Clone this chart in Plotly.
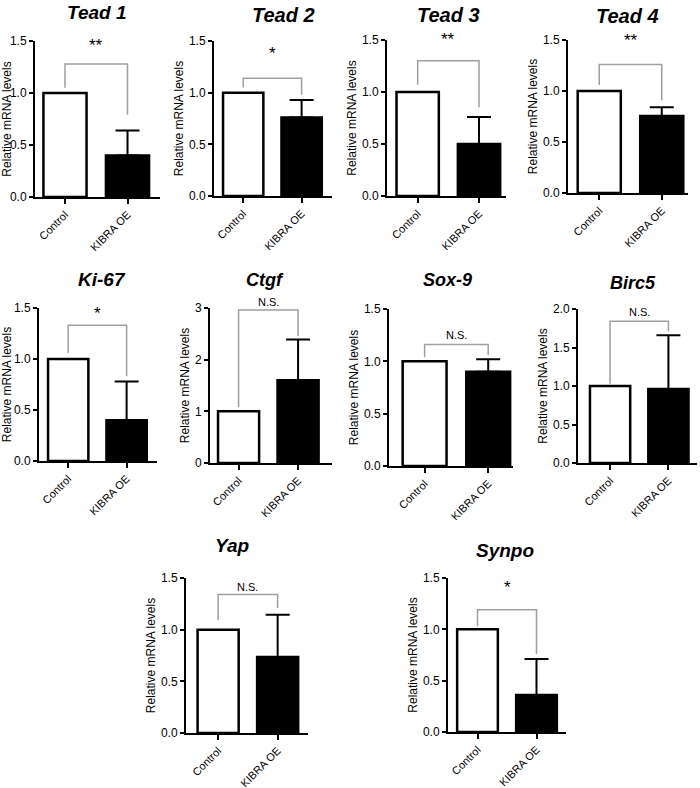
import plotly.graph_objects as go

# ---------------- data ----------------
genes = ["Tead 1", "Tead 2", "Tead 3", "Tead 4", "Ki-67", "Ctgf", "Sox-9", "Birc5", "Yap", "Synpo"]
groups = ["Control", "KIBRA OE"]
control_values = [1.0, 1.0, 1.0, 1.0, 1.0, 1.0, 1.0, 1.0, 1.0, 1.0]
kibra_values = [0.40, 0.76, 0.50, 0.755, 0.40, 1.60, 0.90, 0.96, 0.735, 0.36]
kibra_errors = [0.24, 0.17, 0.26, 0.085, 0.38, 0.79, 0.12, 0.70, 0.41, 0.35]
y_max = [1.5, 1.5, 1.5, 1.5, 1.5, 3.0, 1.5, 2.0, 1.5, 1.5]
y_dtick = [0.5, 0.5, 0.5, 0.5, 0.5, 1.0, 0.5, 0.5, 0.5, 0.5]
y_format = [".1f", ".1f", ".1f", ".1f", ".1f", "d", ".1f", ".1f", ".1f", ".1f"]
sig_labels = ["**", "*", "**", "**", "*", "N.S.", "N.S.", "N.S.", "N.S.", "*"]
bracket_y = [1.28, 1.14, 1.30, 1.26, 1.33, 2.96, 1.16, 1.84, 1.34, 1.19]
bracket_left = [1.05, 1.05, 1.07, 1.06, 1.06, 1.08, 1.04, 1.03, 1.09, 1.03]
bracket_right = [0.79, 0.98, 0.85, 0.91, 0.83, 2.46, 1.06, 1.71, 1.21, 0.76]
y_title = "Relative mRNA levels"

# ---------------- layout geometry (page pixels) ----------------
W, H = 700, 788
panel_px = [  # x_left, x_right, y_bottom, y_top
    (35, 160, 197, 41), (214, 332, 196, 41), (387, 506, 196, 40), (568, 688, 193, 40),
    (39, 157, 461, 308), (210, 332, 463, 308), (389, 513, 466, 309), (578, 697, 463, 309),
    (186, 308, 733, 578), (448, 566, 732, 578),
]
x_ranges = [(-0.48, 1.52), (-0.50, 1.52), (-0.50, 1.44), (-0.50, 1.42), (-0.50, 1.52),
            (-0.48, 1.57), (-0.56, 1.39), (-0.55, 1.49), (-0.54, 1.51), (-0.50, 1.50)]
title_px = [(97, 12), (283, 15), (448, 15), (627, 16), (102, 280), (265, 280), (447, 280),
            (633, 283), (232, 545), (505, 550)]
title_size = [19, 20, 20, 20, 19, 18, 18, 18, 19, 19]
sig_shift_px = [18, 25, 21, 24, 12, 8, 10, 9, 8, 22]


def px_x(v):
    return v / W


def px_y(v):
    return 1 - v / H


FONT = "Arial, Liberation Sans, sans-serif"
fig = go.Figure()
layout = {}
annotations = []

for i, g in enumerate(genes):
    n = i + 1
    xs = "x" if n == 1 else f"x{n}"
    ys = "y" if n == 1 else f"y{n}"
    xk = "xaxis" if n == 1 else f"xaxis{n}"
    yk = "yaxis" if n == 1 else f"yaxis{n}"
    x0, x1, yb, yt = panel_px[i]

    fig.add_trace(go.Bar(
        x=[groups[0]], y=[control_values[i]], width=0.69,
        marker=dict(color="white", line=dict(color="black", width=2.5)),
        xaxis=xs, yaxis=ys, showlegend=False, hoverinfo="skip"))
    fig.add_trace(go.Bar(
        x=[groups[1]], y=[kibra_values[i]], width=0.69,
        marker=dict(color="black", line=dict(color="black", width=2.5)),
        error_y=dict(type="data", array=[kibra_errors[i]], arrayminus=[0], symmetric=False,
                     color="black", thickness=2, width=12),
        xaxis=xs, yaxis=ys, showlegend=False, hoverinfo="skip"))
    fig.add_trace(go.Scatter(
        x=[groups[0], groups[0], groups[1], groups[1]],
        y=[bracket_left[i], bracket_y[i], bracket_y[i], bracket_right[i]],
        mode="lines", line=dict(color="#a0a0a0", width=1.5),
        xaxis=xs, yaxis=ys, showlegend=False, hoverinfo="skip"))

    layout[xk] = dict(
        domain=[px_x(x0), px_x(x1)], anchor=ys, type="category",
        categoryorder="array", categoryarray=groups, range=list(x_ranges[i]),
        showline=True, linewidth=2, linecolor="black", ticks="outside", ticklen=5,
        tickwidth=2, tickcolor="black", tickangle=-45,
        tickfont=dict(family=FONT, size=11, color="black"),
        showgrid=False, zeroline=False, automargin=False, fixedrange=True)
    layout[yk] = dict(
        domain=[px_y(yb), px_y(yt)], anchor=xs, range=[0, y_max[i]],
        dtick=y_dtick[i], tick0=0, tickformat=y_format[i],
        showline=True, linewidth=2, linecolor="black", ticks="outside", ticklen=4,
        tickwidth=2, tickcolor="black",
        tickfont=dict(family=FONT, size=12, color="black"),
        title=dict(text=y_title, font=dict(family=FONT, size=12, color="black"), standoff=3),
        showgrid=False, zeroline=False, automargin=False, fixedrange=True)

    tx, ty = title_px[i]
    annotations.append(dict(
        text=f"<b><i>{g}</i></b>", x=px_x(tx), y=px_y(ty), xref="paper", yref="paper",
        xanchor="center", yanchor="middle", showarrow=False,
        font=dict(family=FONT, size=title_size[i], color="black")))
    is_star = sig_labels[i].startswith("*")
    annotations.append(dict(
        text=sig_labels[i], x=0.5, y=bracket_y[i], xref=xs, yref=ys,
        xanchor="center", yanchor="middle", yshift=sig_shift_px[i], showarrow=False,
        font=dict(family=FONT, size=17 if is_star else 11, color="black")))

fig.update_layout(
    width=W, height=H, margin=dict(l=0, r=0, t=0, b=0),
    paper_bgcolor="white", plot_bgcolor="white", barmode="overlay",
    showlegend=False, annotations=annotations, **layout)

fig.write_html("out.html", config={"displayModeBar": False},
               post_script="document.body.style.margin='0';document.body.style.overflow='hidden';")
